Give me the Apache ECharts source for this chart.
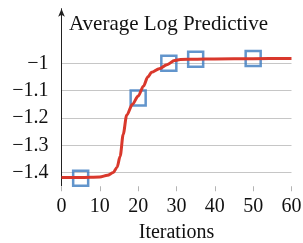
<!DOCTYPE html>
<html>
<head>
<meta charset="utf-8">
<script src="https://cdn.jsdelivr.net/npm/echarts@6/dist/echarts.min.js"></script>
<style>
html, body { margin: 0; padding: 0; background: #fff; }
#main { width: 303px; height: 243px; }
</style>
</head>
<body>
<div id="main"></div>
<script>
var iterations = [0, 5, 10, 12, 13.5, 14.5, 15.3, 16.1, 17, 18.5, 20, 21.4, 22.5, 23.5, 25.5, 27.5, 29.5, 31, 35, 40, 50, 60];
var logPredictive = [-1.418, -1.418, -1.416, -1.41, -1.4, -1.38, -1.34, -1.26, -1.19, -1.15, -1.12, -1.083, -1.05, -1.033, -1.02, -1.005, -0.99, -0.986, -0.985, -0.984, -0.983, -0.982];
var markerIter = [5, 20, 28, 35, 50];
var markerValue = [-1.421, -1.127, -1.0, -0.985, -0.982];
var yTicks = [-1.4, -1.3, -1.2, -1.1, -1];

var chart = echarts.init(document.getElementById("main"));

var lineData = iterations.map(function (x, i) { return [x, logPredictive[i]]; });
var markerData = markerIter.map(function (x, i) { return [x, markerValue[i]]; });

function isTick(v) {
  return yTicks.some(function (t) { return Math.abs(t - v) < 1e-6; });
}

// y ticks run every 0.05 from -1.45, so only every other split line (up to -1) is coloured
var clear = "rgba(255,255,255,0)";
var gridGray = "#c6c6c6";
var splitColors = [clear, gridGray, clear, gridGray, clear, gridGray, clear, gridGray,
  clear, gridGray, clear, clear, clear, clear];

chart.setOption({
  animation: false,
  title: {
    text: "Average Log Predictive",
    left: 64,
    top: 9,
    textStyle: { fontFamily: "'Liberation Serif'", fontSize: 21, fontWeight: "normal", color: "#111" }
  },
  grid: { left: 61.5, right: 11.5, top: 8.7, bottom: 56.75, outerBoundsMode: "none", containLabel: false },
  xAxis: {
    type: "value",
    min: 0,
    max: 60,
    interval: 10,
    name: "Iterations",
    nameLocation: "middle",
    nameGap: 36,
    nameTextStyle: { fontFamily: "'Liberation Serif'", fontSize: 20, color: "#111" },
    axisLine: { show: true, lineStyle: { color: "#ffffff", width: 1 } },
    axisTick: { show: true, length: 5, lineStyle: { color: "#b4b4b4", width: 1 } },
    axisLabel: { fontFamily: "'Liberation Serif'", fontSize: 20, color: "#111", margin: 10 },
    splitLine: { show: false }
  },
  yAxis: {
    type: "value",
    min: -1.45,
    max: -0.8,
    interval: 0.05,
    axisLine: {
      show: true,
      symbol: ["none", "arrow"],
      symbolSize: [5, 8],
      lineStyle: { color: "#222", width: 1 }
    },
    axisTick: { show: false },
    axisLabel: {
      fontFamily: "'Liberation Serif'", fontSize: 20, color: "#111", margin: 13,
      formatter: function (v) {
        if (!isTick(v)) return "";
        return String(Math.round(v * 10) / 10).replace("-", "\u2212");
      }
    },
    splitLine: { show: true, lineStyle: { color: splitColors, width: 1 } }
  },
  series: [
    {
      type: "line",
      data: lineData,
      smooth: 0.3,
      smoothMonotone: "x",
      symbol: "none",
      lineStyle: { color: "#d9382c", width: 3 }
    },
    {
      type: "scatter",
      data: markerData,
      symbol: "rect",
      symbolSize: 15,
      itemStyle: { color: "rgba(0,0,0,0)", borderColor: "#3b7bbf", borderWidth: 2.5 }
    }
  ]
});
</script>
</body>
</html>
